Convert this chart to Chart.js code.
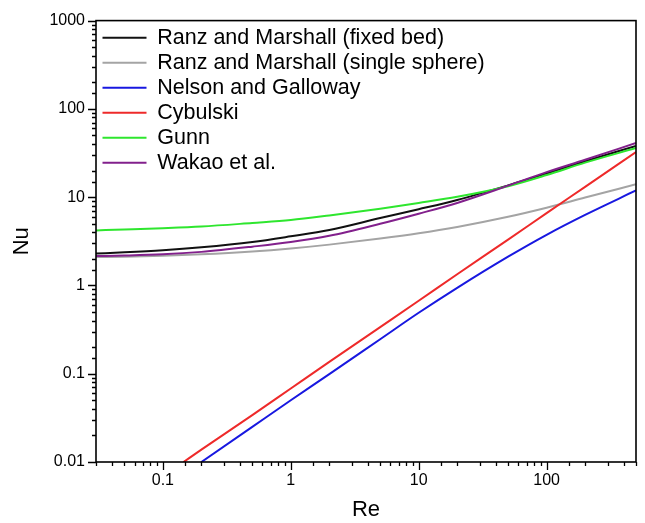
<!DOCTYPE html>
<html>
<head>
<meta charset="utf-8">
<script src="https://cdn.jsdelivr.net/npm/chart.js@4.4.1/dist/chart.umd.min.js"></script>
<style>
  html, body { margin: 0; padding: 0; background: #fff; }
  #wrap { width: 645px; height: 523px; }
</style>
</head>
<body>
<div id="wrap"><canvas id="nuChart" width="645" height="523"></canvas></div>
<script>
// Reynolds numbers shared by the smooth correlations
const re = [0.03, 0.05, 0.1, 0.2, 0.5, 1, 2, 5, 10, 20, 50, 100, 200, 500];
const ranzFixed  = [2.3, 2.37, 2.5, 2.7, 3.1, 3.6, 4.25, 5.8, 7.3, 9.3, 13.6, 18.5, 25.5, 38];
const ranzSingle = [2.1, 2.12, 2.17, 2.25, 2.42, 2.62, 2.9, 3.4, 3.9, 4.6, 6.0, 7.6, 9.9, 14];
const gunn       = [4.2, 4.3, 4.45, 4.65, 5.1, 5.5, 6.2, 7.4, 8.6, 10.1, 13.3, 17.8, 24.6, 36];
const wakao      = [2.15, 2.18, 2.25, 2.4, 2.75, 3.1, 3.65, 5.0, 6.5, 8.6, 13.5, 19.2, 26.5, 41];

// the two power-law lines start at the bottom of the axis
const reCybulski = [0.145, 0.2, 0.5, 1, 2, 5, 10, 20, 50, 100, 200, 500];
const cybulski   = [0.01, 0.0138, 0.034, 0.068, 0.136, 0.337, 0.67, 1.34, 3.3, 6.6, 13.1, 32.5];
const reNelson   = [0.2, 0.5, 1, 2, 5, 10, 20, 50, 100, 200, 500];
const nelson     = [0.01, 0.025, 0.05, 0.099, 0.246, 0.49, 0.94, 2.12, 3.75, 6.3, 11.9];

const seriesNames = [
  "Ranz and Marshall (fixed bed)",
  "Ranz and Marshall (single sphere)",
  "Nelson and Galloway",
  "Cybulski",
  "Gunn",
  "Wakao et al."
];
const seriesColors = ["#111111", "#a4a4a4", "#1818e0", "#ee2a2a", "#2ee62e", "#82208c"];

function pts(xs, ys) {
  return xs.map((x, i) => ({ x: x, y: ys[i] }));
}

function isDecade(v) {
  const l = Math.log10(v);
  return Math.abs(l - Math.round(l)) < 1e-6;
}

const curves = [
  pts(re, ranzFixed),
  pts(re, ranzSingle),
  pts(reNelson, nelson),
  pts(reCybulski, cybulski),
  pts(re, gunn),
  pts(re, wakao)
];

// later series sit on top, like the legend order reversed
const datasets = curves.map((d, i) => ({
  label: seriesNames[i],
  data: d,
  borderColor: seriesColors[i],
  backgroundColor: seriesColors[i],
  borderWidth: 2,
  pointRadius: 0,
  cubicInterpolationMode: "monotone",
  order: curves.length - i
}));

// frame around the plot plus outward major/minor ticks
const frameTicks = {
  id: "frameTicks",
  afterLayout(chart) {
    // keep the legend box inside the plot's top-left corner
    const lg = chart.legend;
    if (lg) {
      lg.top = chart.chartArea.top + 3;
      lg.left = chart.chartArea.left + 3;
    }
  },
  afterDraw(chart) {
    const ctx = chart.ctx;
    const a = chart.chartArea;
    const xs = chart.scales.x, ys = chart.scales.y;
    ctx.save();
    ctx.strokeStyle = "#000";
    ctx.lineWidth = 1.6;
    ctx.strokeRect(a.left, a.top, a.right - a.left, a.bottom - a.top);
    ctx.lineWidth = 1.3;
    ctx.beginPath();
    xs.ticks.forEach(t => {
      const px = Math.round(xs.getPixelForValue(t.value)) + 0.5;
      const len = isDecade(t.value) ? 8 : 4;
      ctx.moveTo(px, a.bottom);
      ctx.lineTo(px, a.bottom + len);
    });
    ys.ticks.forEach(t => {
      const py = Math.round(ys.getPixelForValue(t.value)) + 0.5;
      const len = isDecade(t.value) ? 8 : 4;
      ctx.moveTo(a.left, py);
      ctx.lineTo(a.left - len, py);
    });
    ctx.stroke();
    ctx.restore();
  }
};

Chart.defaults.font.family = "'Liberation Sans', Arial, sans-serif";
Chart.defaults.color = "#000";

new Chart(document.getElementById("nuChart"), {
  type: "line",
  data: { datasets: datasets },
  options: {
    responsive: false,
    animation: false,
    layout: { padding: { top: 19, right: 7, left: 0, bottom: 0 } },
    plugins: {
      tooltip: { enabled: false },
      legend: {
        position: "chartArea",
        align: "start",
        labels: {
          usePointStyle: true,
          pointStyle: "line",
          pointStyleWidth: 44,
          padding: 3.5,
          color: "#000",
          font: { size: 21.5 },
          sort: (a, b) => a.datasetIndex - b.datasetIndex
        }
      }
    },
    scales: {
      x: {
        type: "logarithmic",
        min: 0.03,
        max: 500,
        grid: { display: false, drawTicks: false },
        border: { display: false },
        afterFit: s => { s.height = 61; },
        ticks: {
          autoSkip: false,
          maxRotation: 0,
          padding: 9,
          font: { size: 16 },
          callback: v => isDecade(v) ? String(v) : ""
        },
        title: { display: true, text: "Re", font: { size: 22 }, padding: { top: 0, bottom: 0 } }
      },
      y: {
        type: "logarithmic",
        min: 0.01,
        max: 1000,
        grid: { display: false, drawTicks: false },
        border: { display: false },
        afterFit: s => { s.width = 96; },
        ticks: {
          autoSkip: false,
          padding: 11,
          font: { size: 16 },
          callback: v => isDecade(v) ? String(v) : ""
        },
        title: { display: true, text: "Nu", font: { size: 22 }, padding: { top: 9, bottom: 0 } }
      }
    }
  },
  plugins: [frameTicks]
});
</script>
</body>
</html>
